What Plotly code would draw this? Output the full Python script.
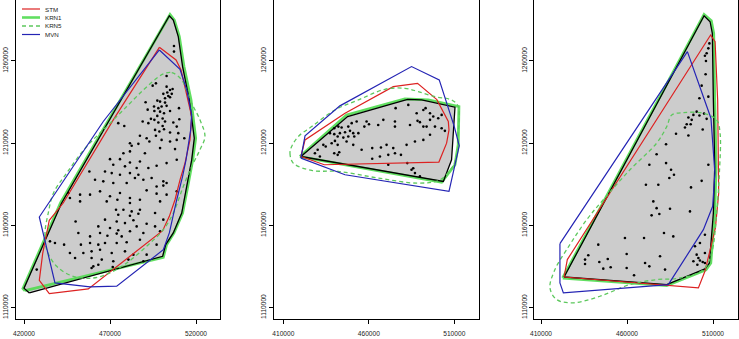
import plotly.graph_objects as go

W, H = 739, 339

# ---------------- data (coordinates in thousands of map units) ----------------
x_ticks_p1 = [420000, 470000, 520000]
x_ticks_p2 = [410000, 460000, 510000]
x_ticks_p3 = [410000, 460000, 510000]
y_ticks = [1110000, 1160000, 1210000, 1260000]
legend_labels = ["STM", "KRN1", "KRN5", "MVN"]

# ---- panel 1 ----
p1_points = [
    (507.2, 1269.1), (507.2, 1265.7), (502.9, 1250.9), (494.8, 1245.0), (496.7, 1246.4), (502.9, 1244.4),
    (504.9, 1242.4), (506.4, 1243.0), (503.3, 1240.8), (505.9, 1240.0), (501.0, 1240.0), (503.9, 1238.7),
    (502.0, 1237.3), (504.9, 1237.9), (499.1, 1235.3), (502.0, 1234.7), (497.5, 1235.9), (490.7, 1234.9),
    (495.6, 1232.3), (498.1, 1231.3), (500.0, 1232.3), (502.9, 1232.7), (491.9, 1230.4), (495.8, 1229.6),
    (499.1, 1229.2), (501.4, 1228.2), (504.9, 1229.6), (510.1, 1231.3), (497.5, 1226.6), (500.6, 1225.0),
    (495.8, 1224.2), (493.8, 1224.8), (489.0, 1223.2), (492.3, 1222.2), (498.1, 1222.6), (502.0, 1223.2),
    (506.8, 1222.6), (510.3, 1224.6), (474.8, 1222.2),
    (478.3, 1220.5), (500.6, 1220.5), (508.8, 1220.1),
    (496.2, 1218.1), (498.7, 1217.1), (501.4, 1218.5), (504.9, 1216.5), (509.7, 1216.1),
    (487.4, 1214.5), (491.3, 1213.0), (496.7, 1214.5), (500.0, 1212.0),
    (481.6, 1210.0), (482.6, 1208.4), (486.5, 1209.6), (492.9, 1211.0), (504.9, 1211.0), (508.8, 1212.0), (513.2, 1213.0),
    (477.8, 1203.9), (481.6, 1205.0), (490.3, 1203.9), (499.1, 1207.0), (507.8, 1206.4),
    (470.0, 1200.3), (475.8, 1200.3), (481.6, 1198.3), (487.4, 1198.9),
    (471.9, 1196.9), (478.7, 1195.9), (485.5, 1194.9), (492.3, 1194.9), (497.1, 1196.3), (502.9, 1197.9), (508.8, 1199.9),
    (458.0, 1192.8), (467.1, 1192.8), (471.0, 1191.8), (475.8, 1190.8), (481.6, 1191.8), (486.5, 1190.8),
    (461.3, 1187.8), (466.1, 1186.8), (471.9, 1185.8), (479.7, 1185.8), (484.5, 1188.8), (489.4, 1187.8),
    (494.2, 1188.8), (501.0, 1186.8), (502.9, 1185.8), (497.1, 1183.7), (501.0, 1184.2),
    (445.8, 1179.7), (452.6, 1178.7), (458.4, 1178.7), (464.2, 1180.7), (470.0, 1177.7), (475.8, 1179.7),
    (481.6, 1176.7), (491.3, 1181.3), (497.1, 1179.3), (502.9, 1178.7), (508.8, 1180.7),
    (446.7, 1176.7), (452.6, 1174.6), (468.1, 1174.6), (474.3, 1175.6), (487.4, 1175.6), (481.6, 1173.6), (499.1, 1174.6),
    (473.5, 1169.5), (477.8, 1169.5), (482.6, 1168.5), (487.4, 1169.5),
    (474.8, 1166.5), (481.6, 1165.9), (486.5, 1167.1), (496.2, 1167.5),
    (467.1, 1163.5), (473.9, 1162.4), (478.7, 1161.4), (483.6, 1163.1), (491.3, 1161.0), (501.0, 1163.5),
    (450.0, 1162.4), (463.2, 1159.4), (470.0, 1158.4), (474.8, 1157.0), (481.6, 1156.4), (485.5, 1159.4), (496.2, 1159.4),
    (451.6, 1155.4), (458.4, 1153.3), (464.2, 1155.4), (468.5, 1153.7), (473.9, 1155.0), (476.8, 1153.3), (489.4, 1155.4), (499.1, 1156.4),
    (443.3, 1148.3), (453.1, 1148.3), (458.4, 1149.3), (463.2, 1148.3), (467.1, 1149.3), (473.9, 1149.3), (479.7, 1149.7),
    (487.4, 1151.3), (497.1, 1148.3), (435.1, 1150.3), (438.0, 1149.3),
    (446.7, 1143.2), (454.5, 1143.2), (459.3, 1144.2), (464.2, 1145.2), (471.0, 1143.2), (478.7, 1144.2), (483.6, 1142.2), (491.3, 1142.2),
    (449.7, 1140.2), (459.3, 1140.2), (465.2, 1139.2), (471.9, 1138.2), (480.7, 1139.2), (489.4, 1138.2),
    (460.3, 1135.1), (463.2, 1136.1), (459.3, 1134.1), (471.6, 1134.7), (427.4, 1133.1),
]
p1_hull = [
    (423.1, 1118.9), (420.0, 1121.8), (441.9, 1173.6), (504.5, 1287.5), (506.8, 1284.9), (509.7, 1274.8),
    (512.2, 1256.6), (516.1, 1236.3), (519.0, 1213.0), (517.5, 1199.9), (514.6, 1183.7), (511.7, 1167.5),
    (506.8, 1155.4), (502.4, 1148.3), (500.6, 1141.2),
]
p1_krn1 = [
    (420.6, 1120.3), (419.4, 1121.6), (441.3, 1173.8), (504.9, 1288.3), (507.4, 1284.9), (510.3, 1274.8),
    (513.0, 1256.6), (517.1, 1236.3), (519.8, 1213.0), (518.1, 1199.9), (515.2, 1183.7), (512.2, 1167.5),
    (507.2, 1155.4), (502.9, 1148.3), (501.0, 1140.6),
]
p1_stm = [
    (498.7, 1268.3), (508.4, 1260.6), (511.3, 1254.5), (514.6, 1240.4), (517.5, 1226.2), (516.5, 1212.0),
    (513.6, 1197.9), (510.7, 1187.7), (507.8, 1175.6), (504.5, 1165.5), (500.6, 1156.8), (457.4, 1121.4),
    (434.7, 1118.5), (428.9, 1126.6), (430.9, 1143.2), (434.7, 1163.1), (442.8, 1173.6), (471.9, 1224.2),
]
p1_krn5 = [
    (501.0, 1252.1), (505.9, 1252.9), (511.7, 1248.5), (516.5, 1236.3), (522.3, 1224.2), (525.2, 1214.1),
    (522.3, 1206.0), (517.5, 1195.8), (512.6, 1183.7), (506.8, 1167.5), (501.0, 1157.4), (491.3, 1147.3),
    (479.7, 1137.1), (470.0, 1131.1), (460.3, 1128.0), (448.7, 1129.0), (439.0, 1135.1), (433.2, 1145.2),
    (432.2, 1155.4), (434.1, 1167.5), (437.1, 1179.6), (444.8, 1191.8), (456.4, 1208.0), (468.1, 1220.1),
    (479.7, 1232.3), (489.4, 1242.4), (497.1, 1249.5),
]
p1_mvn = [
    (498.7, 1266.7), (510.7, 1254.9), (514.6, 1242.4), (517.5, 1227.2), (516.9, 1218.1), (514.2, 1199.9),
    (512.2, 1189.8), (508.8, 1175.6), (504.5, 1155.4), (501.0, 1145.2), (473.9, 1123.0), (458.4, 1122.6),
    (438.0, 1125.0), (428.9, 1165.1), (466.1, 1223.2),
]

# ---- panel 2 ----
p2_points = [
    (475.7, 1231.3), (483.1, 1233.3), (488.0, 1228.2), (491.9, 1230.2), (493.2, 1231.3), (495.8, 1228.2),
    (497.7, 1226.2), (502.6, 1227.2), (475.3, 1223.2), (488.5, 1223.6), (489.9, 1222.8), (495.8, 1224.2),
    (500.6, 1225.2), (468.5, 1224.2), (465.5, 1221.1), (458.7, 1223.2), (457.4, 1220.1), (460.1, 1221.5),
    (452.9, 1223.2), (450.0, 1222.2), (448.0, 1220.1), (444.1, 1219.5), (442.2, 1220.1), (439.8, 1219.1),
    (437.3, 1216.1), (439.8, 1215.5), (443.1, 1216.1), (446.1, 1216.7), (449.0, 1217.5), (450.9, 1216.1),
    (453.9, 1216.1), (451.5, 1214.1), (448.0, 1214.1), (445.1, 1213.4), (441.8, 1214.1), (440.2, 1211.4),
    (438.3, 1210.0), (434.8, 1208.0), (441.8, 1209.0), (447.0, 1211.0), (450.9, 1209.0), (455.8, 1206.0),
    (462.0, 1207.0), (467.1, 1207.4), (470.4, 1209.0), (474.3, 1207.0), (475.3, 1203.9), (471.4, 1202.9),
    (466.5, 1201.9), (462.0, 1200.5), (471.4, 1196.9), (478.8, 1202.9), (482.1, 1209.0), (487.0, 1211.0),
    (491.9, 1212.0), (495.8, 1215.1), (502.6, 1219.1), (504.5, 1217.5), (491.9, 1220.1), (486.0, 1194.8),
    (487.0, 1191.8), (485.0, 1193.8), (430.1, 1206.0), (428.5, 1203.9), (431.4, 1201.9), (439.8, 1203.9),
    (441.8, 1202.9), (442.7, 1204.5), (433.4, 1209.0), (493.8, 1220.1), (498.7, 1220.1), (484.1, 1221.1),
    (475.3, 1220.1), (489.9, 1189.8), (482.5, 1197.9),
]
p2_hull = [
    (420.3, 1201.9), (447.6, 1226.2), (482.7, 1236.7), (490.9, 1236.3), (510.4, 1231.9), (509.4, 1216.1),
    (508.4, 1199.9), (503.6, 1186.7),
]
p2_krn1 = [
    (419.7, 1201.9), (447.0, 1227.2), (481.1, 1236.9), (494.8, 1236.3), (512.7, 1232.3), (512.3, 1209.0),
    (510.4, 1196.9), (502.6, 1186.3),
]
p2_stm = [
    (420.3, 1201.9), (422.7, 1212.0), (446.1, 1228.2), (474.3, 1244.4), (488.5, 1246.4), (499.8, 1236.5),
    (506.5, 1223.2), (506.9, 1218.1), (505.5, 1210.0), (501.0, 1198.5), (434.0, 1196.9),
]
p2_krn5 = [
    (414.9, 1208.0), (413.9, 1203.9), (415.8, 1197.9), (426.6, 1193.4), (442.2, 1192.8), (465.5, 1188.8),
    (488.9, 1185.7), (501.6, 1187.7), (508.4, 1194.8), (511.3, 1201.9), (512.3, 1216.1), (512.3, 1232.3),
    (508.4, 1236.3), (498.7, 1238.3), (488.9, 1241.4), (481.1, 1243.4), (469.4, 1242.8), (453.9, 1236.3),
    (440.2, 1230.2), (426.6, 1220.1), (418.8, 1214.1),
]
p2_mvn = [
    (420.3, 1200.9), (422.7, 1214.5), (443.1, 1232.7), (485.0, 1256.6), (501.2, 1248.5), (510.0, 1220.1),
    (512.9, 1208.4), (506.9, 1180.7), (446.1, 1190.8),
]

# ---- panel 3 ----
p3_points = [
    (507.9, 1270.7), (507.3, 1267.7), (506.3, 1264.7), (505.3, 1263.2), (505.9, 1260.0), (505.7, 1251.9),
    (503.4, 1245.0), (507.3, 1238.3), (502.1, 1237.3), (500.5, 1229.2), (504.8, 1228.0), (502.1, 1226.8),
    (498.6, 1227.2), (495.7, 1225.6), (497.6, 1224.2), (494.7, 1221.5), (497.0, 1221.5), (493.7, 1219.5),
    (506.3, 1224.8), (504.0, 1218.3), (495.7, 1214.7), (488.5, 1215.7), (482.7, 1209.4), (477.2, 1203.3),
    (473.0, 1196.9), (482.7, 1197.9), (485.6, 1193.8), (487.3, 1190.8), (484.6, 1188.8), (507.3, 1196.9),
    (503.4, 1187.1), (471.0, 1184.7), (478.2, 1184.7), (497.2, 1183.1), (475.3, 1174.6), (477.2, 1170.5),
    (485.0, 1170.1), (474.3, 1166.1), (478.8, 1166.9), (496.6, 1168.5), (481.5, 1155.4), (486.9, 1153.3),
    (458.8, 1152.3), (469.9, 1152.3), (443.3, 1148.3), (505.3, 1154.3), (502.4, 1149.3), (499.5, 1147.3),
    (459.8, 1142.6), (479.2, 1141.2), (437.5, 1141.8), (435.6, 1139.2), (435.6, 1136.5), (443.9, 1137.7),
    (448.8, 1139.6), (446.2, 1133.7), (450.5, 1134.5), (459.8, 1134.1), (470.5, 1137.1), (473.0, 1135.1),
    (464.1, 1129.7), (482.1, 1133.1), (500.5, 1142.2), (501.5, 1140.2), (502.4, 1138.6), (504.0, 1137.7),
    (498.6, 1138.2), (505.3, 1137.1), (500.9, 1136.1), (505.3, 1143.2),
]
p3_hull = [
    (423.4, 1128.6), (504.8, 1287.5), (508.3, 1283.9), (509.6, 1276.8), (510.2, 1236.3), (511.0, 1195.8),
    (510.2, 1167.5), (507.9, 1137.1), (505.3, 1133.5), (483.1, 1124.0),
]
p3_krn1 = [
    (422.6, 1128.0), (504.8, 1288.3), (509.0, 1284.5), (510.4, 1276.8), (511.0, 1236.3), (511.8, 1195.8),
    (511.0, 1167.5), (508.7, 1137.1), (505.9, 1133.0), (483.1, 1123.4),
]
p3_stm = [
    (423.4, 1128.6), (425.3, 1139.2), (508.6, 1275.8), (511.2, 1271.7), (512.7, 1236.3), (513.3, 1179.6),
    (511.4, 1158.4), (505.3, 1132.1), (501.5, 1122.0),
]
p3_krn5 = [
    (486.0, 1227.2), (492.8, 1228.6), (504.4, 1228.2), (512.1, 1224.2), (514.1, 1216.1), (513.7, 1191.8),
    (512.1, 1167.5), (509.2, 1143.2), (504.4, 1133.1), (490.8, 1128.0), (477.2, 1127.0), (461.7, 1124.0),
    (444.3, 1116.9), (428.8, 1112.9), (419.1, 1114.9), (415.2, 1122.0), (418.1, 1133.1), (424.9, 1145.2),
    (436.6, 1163.5), (446.2, 1175.6), (461.7, 1193.8), (477.2, 1210.0), (483.1, 1220.1),
]
p3_mvn = [
    (421.0, 1148.9), (495.1, 1265.7), (508.8, 1225.2), (511.1, 1191.8), (509.8, 1171.6), (504.4, 1157.4),
    (484.0, 1124.0), (423.0, 1118.9), (421.0, 1125.0),
]

# ---------------- styling ----------------
C_STM = "#DD2222"
C_KRN1 = "rgba(80,220,80,0.9)"
C_KRN5 = "#5DC85D"
C_MVN = "#2424B4"
C_FILL = "#CCCCCC"
FONT = "Liberation Sans, Arial, sans-serif"

panels = [
    dict(pts=p1_points, hull=p1_hull, krn1=p1_krn1, stm=p1_stm, krn5=p1_krn5, mvn=p1_mvn,
         xdom=[16 / W, 220 / W], xr=[415350, 533950], xt=x_ticks_p1),
    dict(pts=p2_points, hull=p2_hull, krn1=p2_krn1, stm=p2_stm, krn5=p2_krn5, mvn=p2_mvn,
         xdom=[274 / W, 479 / W], xr=[404560, 524450], xt=x_ticks_p2),
    dict(pts=p3_points, hull=p3_hull, krn1=p3_krn1, stm=p3_stm, krn5=p3_krn5, mvn=p3_mvn,
         xdom=[534.3 / W, 738.3 / W], xr=[406100, 524700], xt=x_ticks_p3),
]
YR = [1103060, 1297100]
YDOM = [20 / H, 1.0]


def xy(pairs, close=True):
    xs = [p[0] * 1000 for p in pairs]
    ys = [p[1] * 1000 for p in pairs]
    if close:
        xs.append(xs[0])
        ys.append(ys[0])
    return xs, ys


fig = go.Figure()
layout = dict(
    width=W, height=H, margin=dict(l=0, r=0, t=0, b=0, autoexpand=False),
    paper_bgcolor="white", plot_bgcolor="white", showlegend=False,
    font=dict(family=FONT, size=7, color="#222"),
)

for i, p in enumerate(panels):
    n = "" if i == 0 else str(i + 1)
    xa, ya = "x" + n, "y" + n

    hx, hy = xy(p["hull"])
    fig.add_trace(go.Scatter(x=hx, y=hy, mode="lines", fill="toself", fillcolor=C_FILL,
                             line=dict(width=0), xaxis=xa, yaxis=ya, hoverinfo="skip"))
    kx, ky = xy(p["krn1"])
    fig.add_trace(go.Scatter(x=kx, y=ky, mode="lines", line=dict(color=C_KRN1, width=2.8),
                             xaxis=xa, yaxis=ya))
    fig.add_trace(go.Scatter(x=hx, y=hy, mode="lines", line=dict(color="black", width=1.3),
                             xaxis=xa, yaxis=ya))
    px_, py_ = xy(p["pts"], close=False)
    fig.add_trace(go.Scatter(x=px_, y=py_, mode="markers",
                             marker=dict(color="black", size=2.6, line=dict(width=0)),
                             xaxis=xa, yaxis=ya))
    sx, sy = xy(p["stm"])
    fig.add_trace(go.Scatter(x=sx, y=sy, mode="lines", line=dict(color=C_STM, width=1.2),
                             xaxis=xa, yaxis=ya))
    k5x, k5y = xy(p["krn5"])
    fig.add_trace(go.Scatter(x=k5x, y=k5y, mode="lines",
                             line=dict(color=C_KRN5, width=1.3, dash="4px,3px", shape="spline", smoothing=1.0),
                             xaxis=xa, yaxis=ya))
    mx, my = xy(p["mvn"])
    fig.add_trace(go.Scatter(x=mx, y=my, mode="lines", line=dict(color=C_MVN, width=1.2),
                             xaxis=xa, yaxis=ya))

    tickfont = dict(family=FONT, size=6.6, color="#222")
    layout["xaxis" + n] = dict(
        domain=p["xdom"], range=p["xr"], anchor=ya, tickvals=p["xt"], automargin=False,
        ticktext=[str(t) for t in p["xt"]], showgrid=False, zeroline=False,
        showline=True, mirror=True, linecolor="black", linewidth=1,
        ticks="outside", ticklen=4, tickcolor="black", tickwidth=1, tickfont=tickfont,
        ticklabelstandoff=4,
    )
    layout["yaxis" + n] = dict(
        domain=YDOM, range=YR, anchor=xa, tickvals=y_ticks, automargin=False,
        ticktext=[str(t) for t in y_ticks], showgrid=False, zeroline=False,
        showline=True, mirror=True, linecolor="black", linewidth=1,
        ticks="outside", ticklen=4, tickcolor="black", tickwidth=1, tickfont=tickfont,
        tickangle=-90,
    )

# legend (drawn manually inside panel 1)
leg_colors = [C_STM, C_KRN1, C_KRN5, C_MVN]
leg_widths = [1.2, 2.6, 1.3, 1.2]
leg_dash = ["solid", "solid", "4px,3px", "solid"]
leg_y = [9, 17.5, 26, 34.5]
shapes, annotations = [], []
for lab, c, w, d, yy in zip(legend_labels, leg_colors, leg_widths, leg_dash, leg_y):
    yp = 1 - yy / H
    shapes.append(dict(type="line", xref="paper", yref="paper", x0=22 / W, x1=40 / W, y0=yp, y1=yp,
                       line=dict(color=c, width=w, dash=d)))
    annotations.append(dict(xref="paper", yref="paper", x=43 / W, y=yp, text=lab, showarrow=False,
                            xanchor="left", yanchor="middle",
                            font=dict(family=FONT, size=6.2, color="#222")))
layout["shapes"] = shapes
layout["annotations"] = annotations

fig.update_layout(**layout)
fig.write_html(
    "out.html",
    config={"displayModeBar": False},
    post_script="document.body.style.margin='0';document.body.style.padding='0';"
                "document.body.style.overflow='hidden';",
)
